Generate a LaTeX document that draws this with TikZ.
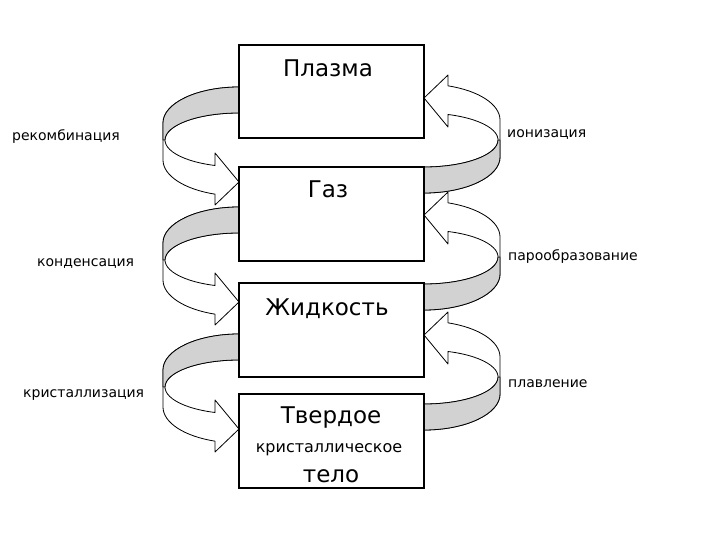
\documentclass[tikz,border=0pt]{standalone}
\usepackage{fontspec}
\setmainfont{DejaVu Sans}
\definecolor{backgray}{RGB}{210,210,210}
\tikzset{
  arrowline/.style={draw=black, line width=0.8bp, line join=round},
  statebox/.style={draw=black, line width=1.2bp, fill=white, rectangle, minimum width=185bp, inner sep=0pt},
  bigtext/.style={anchor=base, inner sep=0pt, font=\fontsize{23bp}{26bp}\selectfont},
  midtext/.style={anchor=base, inner sep=0pt, font=\fontsize{16bp}{18bp}\selectfont},
  proclabel/.style={anchor=base west, inner sep=0pt, font=\fontsize{14bp}{16bp}\selectfont},
  crvarrow/.pic={
    \draw[arrowline, fill=white] (0,0)
      arc[start angle=90, end angle=180, x radius=76bp, y radius=36bp]
      -- (-76,-73)
      arc[start angle=180, end angle=251.6, x radius=76bp, y radius=36bp]
      -- (-24,-118) -- (0,-95) -- (-24,-66) -- (-24,-78.5)
      arc[start angle=251.1, end angle=90, x radius=74bp, y radius=27bp]
      -- cycle;
    \draw[arrowline, fill=backgray] (0,0)
      arc[start angle=90, end angle=180, x radius=76bp, y radius=36bp]
      -- (-76,-53) -- (-74,-53)
      arc[start angle=180, end angle=90, x radius=74bp, y radius=27bp]
      -- cycle;
  }
}
\begin{document}
\begin{tikzpicture}[x=1bp, y=1bp]
\useasboundingbox (0,0) rectangle (720,-540);
% curved arrows, left side (downwards)
\pic at (239,-87) {crvarrow};
\pic at (239,-207) {crvarrow};
\pic at (239,-334) {crvarrow};
% curved arrows, right side (upwards)
\pic[rotate=180] at (424,-193) {crvarrow};
\pic[rotate=180] at (424,-310) {crvarrow};
\pic[rotate=180] at (424,-430) {crvarrow};
% boxes
\node[statebox, minimum height=93bp] (plasma) at (331.5,-91.5) {};
\node[statebox, minimum height=94bp] (gas) at (331.5,-214) {};
\node[statebox, minimum height=94bp] (liquid) at (331.5,-330) {};
\node[statebox, minimum height=94bp] (solid) at (331.5,-441) {};
% box texts
\node[bigtext] (tplasma) at (328,-77) {Плазма};
\node[bigtext] (tgas) at (328,-198) {Газ};
\node[bigtext] (tliquid) at (327,-315) {Жидкость};
\node[bigtext] (tsolid1) at (331,-423) {Твердое};
\node[midtext] (tsolid2) at (329,-452) {кристаллическое};
\node[bigtext] (tsolid3) at (331,-482) {тело};
% process labels
\node[proclabel] (lrec) at (12,-141) {рекомбинация};
\node[proclabel] (lcond) at (37,-267) {конденсация};
\node[proclabel] (lcryst) at (23,-397) {кристаллизация};
\node[proclabel] (lion) at (507,-138) {ионизация};
\node[proclabel] (lvap) at (508,-261) {парообразование};
\node[proclabel] (lmelt) at (508,-387) {плавление};
\end{tikzpicture}
\end{document}
